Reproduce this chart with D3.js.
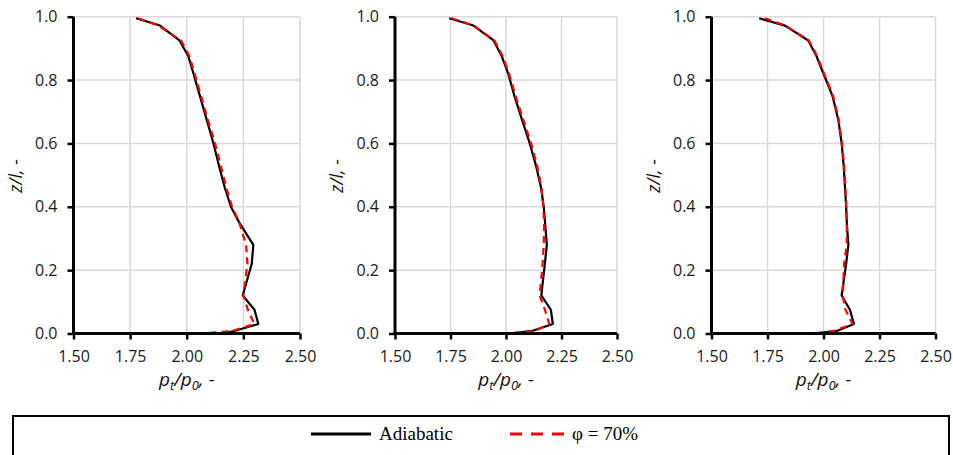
<!DOCTYPE html>
<html>
<head>
<meta charset="utf-8">
<script src="https://cdn.jsdelivr.net/npm/d3@7"></script>
<style>
  html, body { margin: 0; padding: 0; background: #fff; }
  svg { display: block; }
</style>
</head>
<body>
<svg id="chart" width="953" height="455"></svg>
<script>
// ---- data ----
const zLevels = [0.995, 0.972, 0.925, 0.875, 0.82, 0.75, 0.675, 0.6, 0.53, 0.46, 0.4, 0.35, 0.28, 0.22, 0.12, 0.075, 0.03, 0.008, 0.0];

const panel1Adiabatic = [1.776, 1.882, 1.968, 2.007, 2.030, 2.058, 2.088, 2.118, 2.142, 2.168, 2.195, 2.232, 2.294, 2.287, 2.247, 2.299, 2.316, 2.210, 2.150];
const panel1Phi70     = [1.786, 1.875, 1.975, 2.012, 2.035, 2.063, 2.093, 2.125, 2.150, 2.175, 2.200, 2.232, 2.262, 2.268, 2.250, 2.270, 2.298, 2.200, 2.070];

const panel2Adiabatic = [1.744, 1.853, 1.944, 1.981, 2.010, 2.038, 2.072, 2.107, 2.135, 2.158, 2.170, 2.176, 2.184, 2.175, 2.159, 2.202, 2.211, 2.117, 2.020];
const panel2Phi70     = [1.756, 1.855, 1.948, 1.985, 2.014, 2.043, 2.078, 2.113, 2.140, 2.160, 2.168, 2.172, 2.170, 2.165, 2.152, 2.175, 2.195, 2.130, 2.004];

const panel3Adiabatic = [1.713, 1.828, 1.932, 1.969, 2.000, 2.040, 2.066, 2.081, 2.090, 2.096, 2.101, 2.104, 2.111, 2.101, 2.081, 2.118, 2.136, 2.059, 1.962];
const panel3Phi70     = [1.738, 1.830, 1.935, 1.972, 2.003, 2.043, 2.068, 2.083, 2.092, 2.098, 2.102, 2.104, 2.104, 2.092, 2.086, 2.098, 2.130, 2.044, 1.955];

const xTicks = [1.50, 1.75, 2.00, 2.25, 2.50];
const yTicks = [0.0, 0.2, 0.4, 0.6, 0.8, 1.0];
const seriesNames = ["Adiabatic", "φ = 70%"];

// ---- layout ----
const panels = [
  { left: 73.5, right: 300,   adi: panel1Adiabatic, phi: panel1Phi70 },
  { left: 395,  right: 617,   adi: panel2Adiabatic, phi: panel2Phi70 },
  { left: 711.5, right: 935.5, adi: panel3Adiabatic, phi: panel3Phi70 }
];
const plotTop = 16.7, plotBottom = 333.5;
const tickFont = "'Open Sans', sans-serif";

const svg = d3.select("#chart");

panels.forEach(p => {
  const x = d3.scaleLinear().domain([1.5, 2.5]).range([p.left, p.right]);
  const y = d3.scaleLinear().domain([0, 1]).range([plotBottom, plotTop]);
  const g = svg.append("g");

  // gridlines
  g.selectAll("line.vg").data(xTicks.slice(1)).enter().append("line")
    .attr("x1", d => x(d)).attr("x2", d => x(d))
    .attr("y1", plotTop).attr("y2", plotBottom)
    .attr("stroke", "#d9d9d9").attr("stroke-width", 1.5);
  g.selectAll("line.hg").data(yTicks.slice(1)).enter().append("line")
    .attr("y1", d => y(d)).attr("y2", d => y(d))
    .attr("x1", p.left).attr("x2", p.right)
    .attr("stroke", "#d9d9d9").attr("stroke-width", 1.5);

  // lines
  const lineGen = vals => d3.line().x(d => x(d)).y((d, i) => y(zLevels[i]))(vals);
  g.append("path").attr("d", lineGen(p.adi))
    .attr("fill", "none").attr("stroke", "#000").attr("stroke-width", 2.2)
    .attr("stroke-linejoin", "round");
  g.append("path").attr("d", lineGen(p.phi))
    .attr("fill", "none").attr("stroke", "#ff0000").attr("stroke-width", 2.2)
    .attr("stroke-dasharray", "7,5");

  // axes
  const xAxis = d3.axisBottom(x).tickValues(xTicks).tickFormat(d3.format(".2f"))
    .tickSizeInner(6).tickSizeOuter(0).tickPadding(11);
  const gx = g.append("g").attr("transform", `translate(0,${plotBottom})`).call(xAxis);
  const yAxis = d3.axisLeft(y).tickValues(yTicks).tickFormat(d3.format(".1f"))
    .tickSizeInner(6).tickSizeOuter(0).tickPadding(10);
  const gy = g.append("g").attr("transform", `translate(${p.left},0)`).call(yAxis);

  [gx, gy].forEach(a => {
    a.select(".domain").attr("stroke", "#000").attr("stroke-width", 3);
    a.selectAll(".tick line").attr("stroke", "#000").attr("stroke-width", 2.5);
    a.selectAll(".tick text").attr("font-family", tickFont).attr("font-size", 16).attr("fill", "#1a1a1a");
  });
  gx.selectAll(".tick text").attr("dy", "0.71em");
  gx.select(".domain").attr("d", `M${p.left - 1.5},0H${p.right}`);
  gy.select(".domain").attr("d", `M0,${plotTop}V${plotBottom + 1.5}`);

  // y title
  const cx = (p.left + p.right) / 2;
  g.append("text")
    .attr("transform", `translate(${p.left - 52},${176}) rotate(-90)`)
    .attr("text-anchor", "middle")
    .attr("font-family", tickFont).attr("font-size", 18).attr("font-style", "italic")
    .attr("fill", "#111")
    .text("z/l, -");

  // x title
  const t = g.append("text").attr("x", cx).attr("y", 386)
    .attr("text-anchor", "middle")
    .attr("font-family", tickFont).attr("font-size", 19).attr("font-style", "italic")
    .attr("fill", "#111");
  t.append("tspan").text("p");
  t.append("tspan").attr("font-size", 13).attr("dy", 4).text("t");
  t.append("tspan").attr("dy", -4).text("/p");
  t.append("tspan").attr("font-size", 13).attr("dy", 4).text("0");
  t.append("tspan").attr("dy", -4).text(", -");
});

// ---- legend ----
const lg = svg.append("g");
lg.append("rect").attr("x", 13).attr("y", 416).attr("width", 936).attr("height", 60)
  .attr("fill", "#fff").attr("stroke", "#000").attr("stroke-width", 2);
const legendItems = [
  { name: seriesNames[0], x1: 311, x2: 371, color: "#000", dash: null },
  { name: seriesNames[1], x1: 510, x2: 564, color: "#ff0000", dash: "12,9" }
];
legendItems.forEach(it => {
  lg.append("line").attr("x1", it.x1).attr("x2", it.x2).attr("y1", 434).attr("y2", 434)
    .attr("stroke", it.color).attr("stroke-width", 3)
    .attr("stroke-dasharray", it.dash);
  lg.append("text").attr("x", it.x2 + 8).attr("y", 440)
    .attr("font-family", "'Liberation Serif', 'Times New Roman', serif")
    .attr("font-size", 19).attr("fill", "#000")
    .text(it.name);
});
</script>
</body>
</html>
